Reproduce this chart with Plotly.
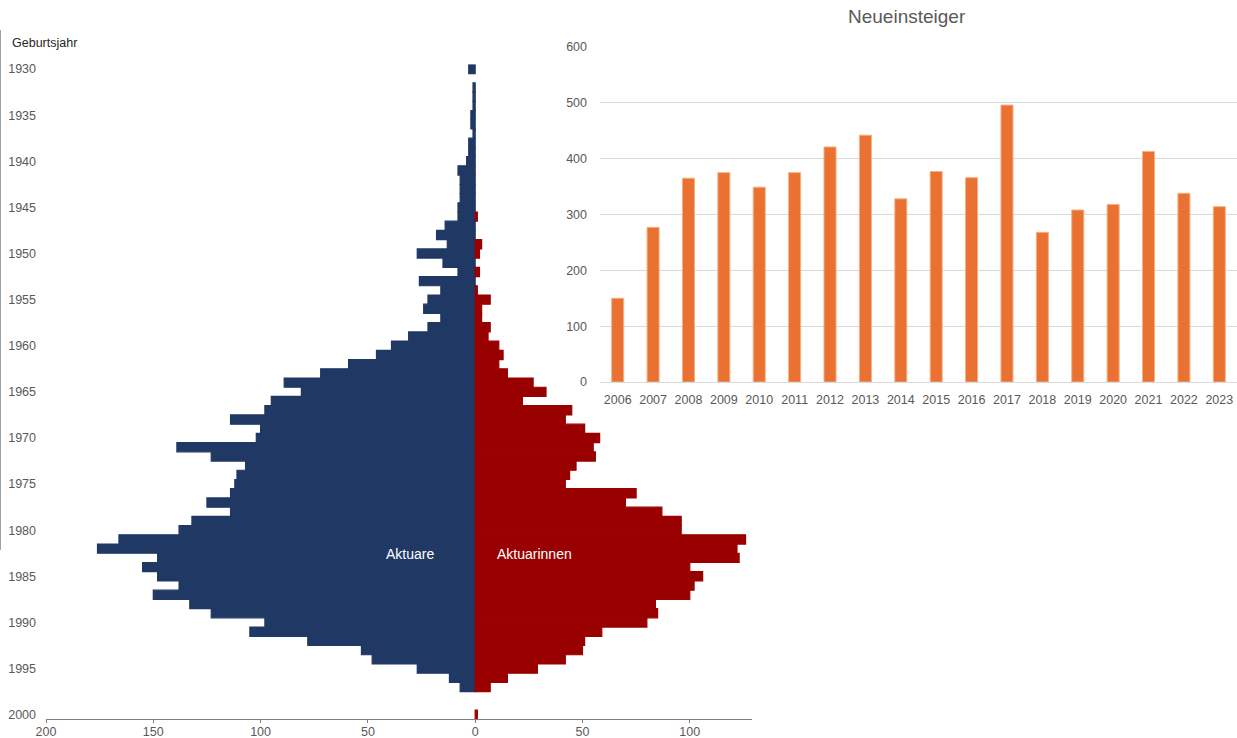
import plotly.graph_objects as go

# Geburtsjahrgänge der Aktuare / Aktuarinnen
birth_years = list(range(1930, 2001))
aktuare = [3, 0, 1, 1, 1, 2, 2, 1, 3, 3,
           4, 8, 7, 7, 7, 8, 8, 14, 18, 13,
           27, 15, 8, 26, 16, 22, 24, 16, 22, 31,
           39, 46, 59, 72, 89, 81, 95, 98, 114, 100,
           102, 139, 123, 107, 111, 112, 114, 125, 114, 132,
           138, 166, 176, 148, 155, 148, 138, 150, 133, 123,
           98, 105, 78, 53, 48, 27, 12, 7, 0, 0,
           0]
aktuarinnen = [0, 0, 0, 0, 0, 0, 0, 0, 0, 0,
               0, 0, 0, 0, 0, 0, 1, 0, 0, 3,
               2, 0, 2, 0, 1, 7, 3, 3, 7, 6,
               11, 13, 11, 15, 27, 33, 22, 45, 42, 51,
               58, 55, 56, 47, 44, 42, 75, 70, 87, 96,
               96, 126, 122, 123, 100, 106, 102, 100, 84, 85,
               80, 59, 51, 50, 42, 29, 15, 7, 0, 0,
               1]

# Neueinsteiger pro Jahr
entry_years = [str(y) for y in range(2006, 2024)]
neueinsteiger = [150, 277, 365, 375, 349, 375, 421, 442, 328, 377,
                 366, 496, 268, 308, 318, 413, 338, 314]

pyr_ticks = [-200, -150, -100, -50, 0, 50, 100]
pyr_ticktext = [str(abs(v)) for v in pyr_ticks]
year_ticks = list(range(1930, 2001, 5))

NAVY = "#203864"
RED = "#990000"
ORANGE = "#E97132"
GREY_TXT = "#595959"
BASE_FONT = "Liberation Sans, Arial, sans-serif"

# leere Jahrgänge nicht zeichnen (sonst bleibt die Randlinie sichtbar)
male_x = [-v if v else None for v in aktuare]
female_x = [v if v else None for v in aktuarinnen]

fig = go.Figure()

# Pyramide: Männer nach links (negativ), Frauen nach rechts
fig.add_trace(go.Bar(
    y=birth_years, x=male_x, orientation="h",
    marker=dict(color=NAVY, line=dict(width=1.2, color=NAVY)), width=1.0,
    name="Aktuare", xaxis="x", yaxis="y",
    customdata=aktuare, hovertemplate="%{y}: %{customdata}<extra>Aktuare</extra>",
))
fig.add_trace(go.Bar(
    y=birth_years, x=female_x, orientation="h",
    marker=dict(color=RED, line=dict(width=1.2, color=RED)), width=1.0,
    name="Aktuarinnen", xaxis="x", yaxis="y",
))
# Säulen: Neueinsteiger je Jahr
fig.add_trace(go.Bar(
    x=entry_years, y=neueinsteiger,
    marker=dict(color=ORANGE, line=dict(width=1, color="#F4B183")), width=0.34,
    name="Neueinsteiger", xaxis="x2", yaxis="y2",
))

W, H = 1237, 738
fig.update_layout(
    width=W, height=H,
    margin=dict(l=0, r=0, t=0, b=0, autoexpand=False),
    paper_bgcolor="white", plot_bgcolor="white",
    showlegend=False, barmode="overlay",
    font=dict(family=BASE_FONT, color=GREY_TXT, size=12.5),
    xaxis=dict(
        domain=[46 / W, 752 / W], range=[-200, 129],
        tickvals=pyr_ticks, ticktext=pyr_ticktext,
        showgrid=False, zeroline=False,
        showline=True, linecolor="#808080", linewidth=1,
        ticks="outside", ticklen=3, tickcolor="#808080",
        ticklabelstandoff=-2,
        tickfont=dict(size=12.5, color=GREY_TXT), anchor="y",
        automargin=False,
    ),
    yaxis=dict(
        domain=[(H - 719.3) / H, (H - 64.4) / H],
        range=[2000.5, 1929.5],
        tickvals=year_ticks, showgrid=False, zeroline=False, showline=False,
        ticks="", ticklabelstandoff=9,
        tickfont=dict(size=12.5, color=GREY_TXT), anchor="x",
        automargin=False,
    ),
    xaxis2=dict(
        domain=[600 / W, 1.0], type="category",
        showgrid=False, zeroline=False,
        showline=True, linecolor="#d9d9d9", linewidth=1,
        ticks="", ticklabelstandoff=6,
        tickfont=dict(size=12.5, color=GREY_TXT),
        anchor="y2", automargin=False,
    ),
    yaxis2=dict(
        domain=[(H - 382) / H, (H - 47) / H], range=[0, 600],
        tickvals=[0, 100, 200, 300, 400, 500, 600],
        showgrid=True, gridcolor="#d9d9d9", gridwidth=1, zeroline=False,
        showline=False, ticks="", ticklabelstandoff=12,
        tickfont=dict(size=12.5, color=GREY_TXT),
        anchor="x2", automargin=False,
    ),
    annotations=[
        dict(text="Geburtsjahr", x=10 / W, y=(H - 43) / H, xref="paper", yref="paper",
             xanchor="left", yanchor="middle", showarrow=False,
             font=dict(size=12.5, color="#262626")),
        dict(text="Aktuare", x=-30.5, y=1982.6, xref="x", yref="y",
             showarrow=False, font=dict(size=14, color="white")),
        dict(text="Aktuarinnen", x=27.7, y=1982.6, xref="x", yref="y",
             showarrow=False, font=dict(size=14, color="white")),
        dict(text="Neueinsteiger", x=907 / W, y=(H - 17) / H, xref="paper", yref="paper",
             xanchor="center", yanchor="middle", showarrow=False,
             font=dict(size=19, color=GREY_TXT)),
    ],
    shapes=[
        dict(type="line", xref="paper", yref="paper", x0=0.5 / W, x1=0.5 / W,
             y0=(H - 30) / H, y1=(H - 550) / H, line=dict(color="#a0a0a0", width=1)),
    ],
)

fig.write_html("out.html")
